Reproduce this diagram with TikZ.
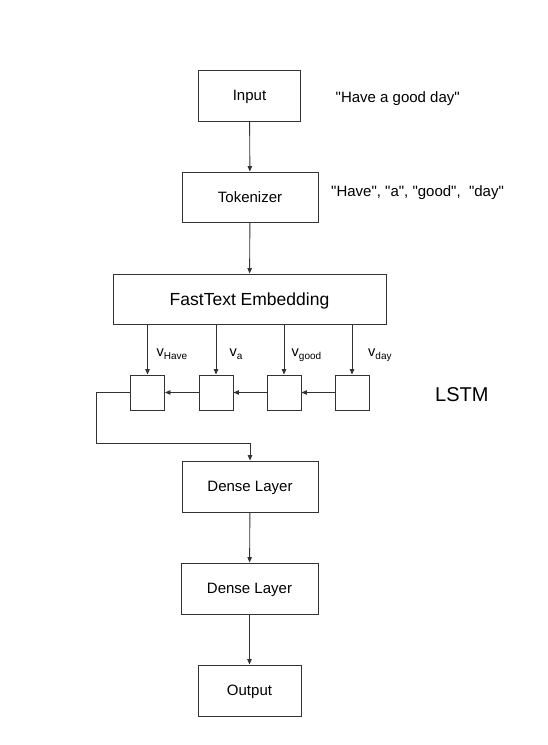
\documentclass[tikz,border=0pt]{standalone}
\usepackage{fontspec}
\setmainfont{Liberation Sans}
\usetikzlibrary{arrows.meta}
% vector label with a lowered subscript
\newcommand\vsub[1]{v\raisebox{-3.3pt}{\fontsize{10}{12}\selectfont #1}}
% straight double quotes
\newcommand\qt[1]{\textquotedbl#1\textquotedbl}
\begin{document}
\begin{tikzpicture}[x=1pt,y=-1pt,
  line/.style={draw=black!80, line width=0.9pt},
  arr/.style={line, -{Triangle[length=5.5pt,width=4.5pt]}},
  block/.style={draw=black!80, line width=0.9pt, fill=white, inner sep=0pt,
                text height=10pt, text depth=0pt,
                font=\fontsize{15}{18}\selectfont},
  cell/.style={draw=black!80, line width=0.9pt, minimum width=34pt,
               minimum height=35pt, inner sep=0pt},
  note/.style={font=\fontsize{15}{18}\selectfont, inner sep=0pt, anchor=base west},
  vlabel/.style={font=\fontsize{14.5}{18}\selectfont, inner sep=0pt, anchor=base west}]
\fill[white] (0,0) rectangle (547,745);
\useasboundingbox (0,0) rectangle (547,745);

% main pipeline
\node[block, minimum width=102pt, minimum height=51pt] (input) at (249.5,95.5) {Input};
\node[block, minimum width=136pt, minimum height=50pt] (tok) at (250,197) {Tokenizer};
\node[block, minimum width=273pt, minimum height=50pt, text height=13pt,
      font=\fontsize{17.5}{21}\selectfont] (emb) at (249.5,299) {FastText Embedding};
\node[block, minimum width=136pt, minimum height=51pt] (d1) at (250,486.5) {Dense Layer};
\node[block, minimum width=137pt, minimum height=51pt] (d2) at (249.5,588.5) {Dense Layer};
\node[block, minimum width=103pt, minimum height=51pt] (out) at (249.5,690.5) {Output};

% recurrent cells
\node[cell] (c1) at (147.5,392.5) {};
\node[cell] (c2) at (216,392.5) {};
\node[cell] (c3) at (284,392.5) {};
\node[cell] (c4) at (352,392.5) {};

% side notes
\node[note] (s1) at (335.5,102) {\qt{Have a good day}};
\node[note] (s2) at (331,196.5) {\qt{Have}, \qt{a}, \qt{good},\ \ \qt{day}};
\node[note, font=\fontsize{20}{24}\selectfont] (lstm) at (435,401) {LSTM};

% embedding vectors
\node[vlabel] (v1) at (156.5,356) {\vsub{Have}};
\node[vlabel] (v2) at (229.5,356) {\vsub{a}};
\node[vlabel] (v3) at (291.5,356) {\vsub{good}};
\node[vlabel] (v4) at (368,356) {\vsub{day}};

% connectors
\draw[arr] (input) -- (tok);
\draw[arr] (tok) -- (emb);
\foreach \c in {c1,c2,c3,c4}
  \draw[arr] (\c.north |- emb.south) -- (\c.north);
\draw[arr] (c4) -- (c3);
\draw[arr] (c3) -- (c2);
\draw[arr] (c2) -- (c1);
\coordinate (bend) at (96,443);
\draw[arr] (c1.west) -| (bend) -| (d1.north);
\draw[arr] (d1) -- (d2);
\draw[arr] (d2) -- (out);
\end{tikzpicture}
\end{document}
